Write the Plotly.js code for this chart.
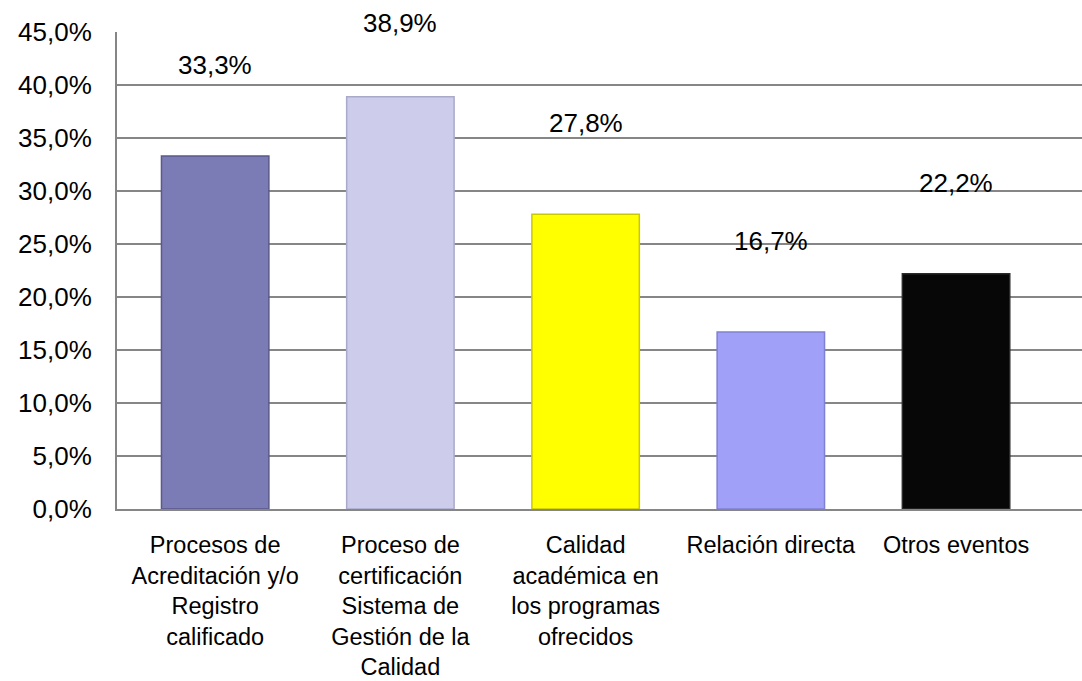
<!DOCTYPE html>
<html>
<head>
<meta charset="utf-8">
<script src="https://cdn.plot.ly/plotly-3.0.1.min.js"></script>
<style>html,body{margin:0;padding:0;background:#fff;}#chart{width:1082px;height:681px;}</style>
</head>
<body>
<div id="chart"></div>
<script>
const categories = [
  "Procesos de<br>Acreditación y/o<br>Registro<br>calificado",
  "Proceso de<br>certificación<br>Sistema de<br>Gestión de la<br>Calidad",
  "Calidad<br>académica en<br>los programas<br>ofrecidos",
  "Relación directa",
  "Otros eventos"
];
const values = [33.3, 38.9, 27.8, 16.7, 22.2];
const barColors = ["#7b7bb6", "#cdcdeb", "#ffff00", "#a0a0f8", "#070707"];
const barEdges = ["#5a5a8a", "#a9a9c9", "#c9c900", "#8080d2", "#2a2a2a"];
const yTickVals = [0, 5, 10, 15, 20, 25, 30, 35, 40, 45];
const yTickText = yTickVals.map(v => v.toFixed(1).replace(".", ",") + "%");

const FONT = "Liberation Sans, Arial, sans-serif";
const labelLift = 8.6;   // label offset above bar (axis units)
const yMax = 45;

const trace = {
  type: "bar",
  x: categories,
  y: values,
  width: 0.58,
  marker: { color: barColors, line: { color: barEdges, width: 1.5 } },
  hoverinfo: "skip"
};

const annotations = values.map((v, i) => {
  const over = v + labelLift > yMax;
  return {
    x: categories[i],
    y: over ? yMax : v + labelLift,
    yshift: over ? 9 : 0,
    xref: "x", yref: "y",
    text: v.toFixed(1).replace(".", ",") + "%",
    showarrow: false,
    font: { family: FONT, size: 26, color: "#000" }
  };
});

const layout = {
  width: 1082, height: 681,
  margin: { l: 117, r: 0, t: 32, b: 172 },
  paper_bgcolor: "#fff", plot_bgcolor: "#fff",
  separators: ",.",
  showlegend: false,
  font: { family: FONT, size: 26, color: "#000" },
  xaxis: {
    type: "category",
    range: [-0.53, 4.68],
    showgrid: false,
    showline: true, linecolor: "#868686", linewidth: 2,
    ticks: "", tickangle: 0,
    ticklabelstandoff: 14,
    tickfont: { family: FONT, size: 23.5, color: "#000" },
    fixedrange: true
  },
  yaxis: {
    range: [0, yMax],
    tickvals: yTickVals,
    ticktext: yTickText,
    showgrid: true, gridcolor: "#868686", gridwidth: 2,
    zeroline: false,
    showline: true, linecolor: "#868686", linewidth: 2,
    ticks: "", ticklabelstandoff: 18,
    tickfont: { family: FONT, size: 26, color: "#000" },
    fixedrange: true
  },
  annotations: annotations
};

Plotly.newPlot("chart", [trace], layout, { displayModeBar: false, staticPlot: true });
</script>
</body>
</html>
